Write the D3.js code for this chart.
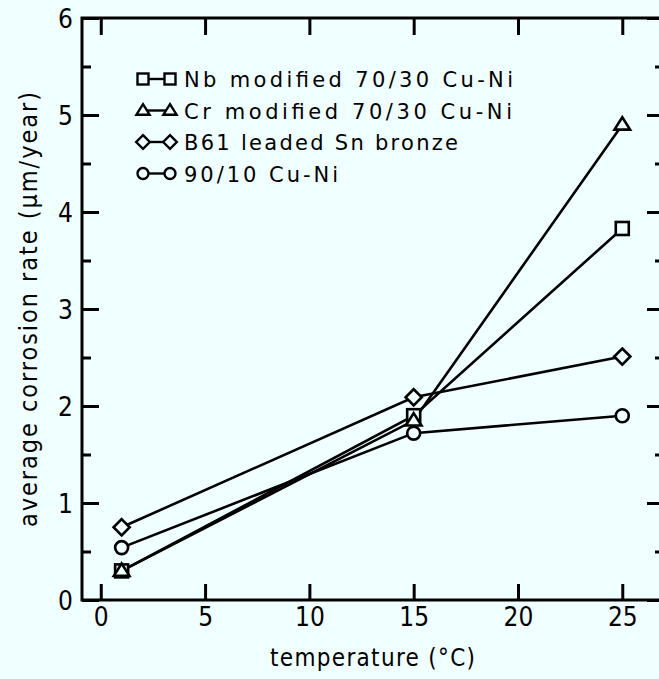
<!DOCTYPE html>
<html>
<head>
<meta charset="utf-8">
<script src="https://cdn.jsdelivr.net/npm/d3@7"></script>
<style>
  html, body { margin: 0; padding: 0; background: #f0ffff; }
  svg { display: block; }
  text { font-family: "DejaVu Sans Condensed", "DejaVu Sans", sans-serif; fill: #000; }
</style>
</head>
<body>
<svg id="chart" width="659" height="679"></svg>
<script>
// ---- data ----
const temperatures = [1, 15, 25];
const nbModified   = [0.30, 1.90, 3.83];
const crModified   = [0.30, 1.85, 4.90];
const b61Bronze    = [0.75, 2.09, 2.51];
const cuNi9010     = [0.54, 1.72, 1.90];

const seriesNames   = ["Nb modified 70/30 Cu-Ni", "Cr modified 70/30 Cu-Ni", "B61 leaded Sn bronze", "90/10 Cu-Ni"];
const seriesSymbols = ["square", "triangle", "diamond", "circle"];
const seriesValues  = [nbModified, crModified, b61Bronze, cuNi9010];

const xTicks = [0, 5, 10, 15, 20, 25];
const yTicks = [0, 1, 2, 3, 4, 5, 6];
const yMinorTicks = [0.5, 1.5, 2.5, 3.5, 4.5, 5.5];
const xTitle = "temperature (\u00B0C)";
const yTitle = "average corrosion rate (\u00B5m/year)";

// ---- layout ----
const bg = "#f0ffff";
const L = 82, R = 664, T = 18, B = 600;
const svg = d3.select("#chart");
svg.append("rect").attr("width", 659).attr("height", 679).attr("fill", bg);

const x = d3.scaleLinear().domain([-0.9, 27]).range([L, R]);
const y = d3.scaleLinear().domain([0, 6]).range([B, T]);

const g = svg.append("g");

// axes
const axB = g.append("g").attr("transform", `translate(0,${B})`)
  .call(d3.axisBottom(x).tickValues(xTicks).tickFormat(d3.format("d")).tickSize(-16).tickPadding(8));
const axT = g.append("g").attr("transform", `translate(0,${T})`)
  .call(d3.axisTop(x).tickValues(xTicks).tickFormat("").tickSize(-17));
const axL = g.append("g").attr("transform", `translate(${L},0)`)
  .call(d3.axisLeft(y).tickValues(yTicks).tickFormat(d3.format("d")).tickSize(-17).tickPadding(9));
const axLm = g.append("g").attr("transform", `translate(${L},0)`)
  .call(d3.axisLeft(y).tickValues(yMinorTicks).tickFormat("").tickSize(-9));
const axR = g.append("g").attr("transform", `translate(${R},0)`)
  .call(d3.axisRight(y).tickValues(yTicks).tickFormat("").tickSize(-17));
const axRm = g.append("g").attr("transform", `translate(${R},0)`)
  .call(d3.axisRight(y).tickValues(yMinorTicks).tickFormat("").tickSize(-9));

[axB, axT, axL, axLm, axR, axRm].forEach(a => {
  a.select(".domain").remove();
  a.selectAll(".tick line").attr("stroke", "#000").attr("stroke-width", 3);
  a.selectAll(".tick text").attr("font-size", 26).attr("fill", "#000")
    .style("font-family", '"DejaVu Sans Condensed", "DejaVu Sans", sans-serif');
});
axL.selectAll(".tick text").attr("dy", "0.36em");

// frame
g.append("rect").attr("x", L).attr("y", T).attr("width", R - L).attr("height", B - T)
  .attr("fill", "none").attr("stroke", "#000").attr("stroke-width", 3);

// titles
g.append("text").attr("x", (270 + 475) / 2).attr("y", 666).attr("text-anchor", "middle")
  .attr("font-size", 24).attr("textLength", 205).attr("lengthAdjust", "spacing").text(xTitle);
g.append("text").attr("transform", `translate(37,${(92 + 527) / 2}) rotate(-90)`)
  .attr("text-anchor", "middle").attr("font-size", 25)
  .attr("textLength", 435).attr("lengthAdjust", "spacing").text(yTitle);

// markers
function drawMarker(sel, type, cx, cy, s) {
  if (type === "square") {
    sel.append("rect").attr("x", cx - s / 2).attr("y", cy - s / 2).attr("width", s).attr("height", s);
  } else if (type === "triangle") {
    const h = s * 0.95, w = s * 1.2;
    sel.append("path").attr("d", `M${cx},${cy - h * 0.6}L${cx + w / 2},${cy + h * 0.4}L${cx - w / 2},${cy + h * 0.4}Z`);
  } else if (type === "diamond") {
    const r = s * 0.62;
    sel.append("path").attr("d", `M${cx},${cy - r}L${cx + r},${cy}L${cx},${cy + r}L${cx - r},${cy}Z`);
  } else {
    sel.append("circle").attr("cx", cx).attr("cy", cy).attr("r", s / 2);
  }
}

const line = d3.line().x(d => x(d[0])).y(d => y(d[1]));
seriesValues.forEach((vals, i) => {
  const pts = temperatures.map((t, j) => [t, vals[j]]);
  g.append("path").attr("d", line(pts)).attr("fill", "none").attr("stroke", "#000").attr("stroke-width", 2.6);
});
seriesValues.forEach((vals, i) => {
  const mg = g.append("g").attr("fill", bg).attr("stroke", "#000").attr("stroke-width", 2.6);
  temperatures.forEach((t, j) => drawMarker(mg, seriesSymbols[i], x(t), y(vals[j]), 13));
});

// legend
const legendX1 = 143, legendX2 = 170, legendTextX = 184, legendY0 = 79, legendDy = 31.5;
const legendLens = [329, 328, 274, 154];
seriesNames.forEach((name, i) => {
  const ly = legendY0 + i * legendDy;
  const lg = g.append("g");
  lg.append("line").attr("x1", legendX1).attr("x2", legendX2).attr("y1", ly).attr("y2", ly)
    .attr("stroke", "#000").attr("stroke-width", 2.4);
  const mg = lg.append("g").attr("fill", bg).attr("stroke", "#000").attr("stroke-width", 2.4);
  drawMarker(mg, seriesSymbols[i], legendX1, ly, 11);
  drawMarker(mg, seriesSymbols[i], legendX2, ly, 11);
  lg.append("text").attr("x", legendTextX).attr("y", ly + 8).attr("font-size", 21)
    .style("font-family", '"DejaVu Sans", sans-serif')
    .attr("textLength", legendLens[i]).attr("lengthAdjust", "spacing").text(name);
});
</script>
</body>
</html>
